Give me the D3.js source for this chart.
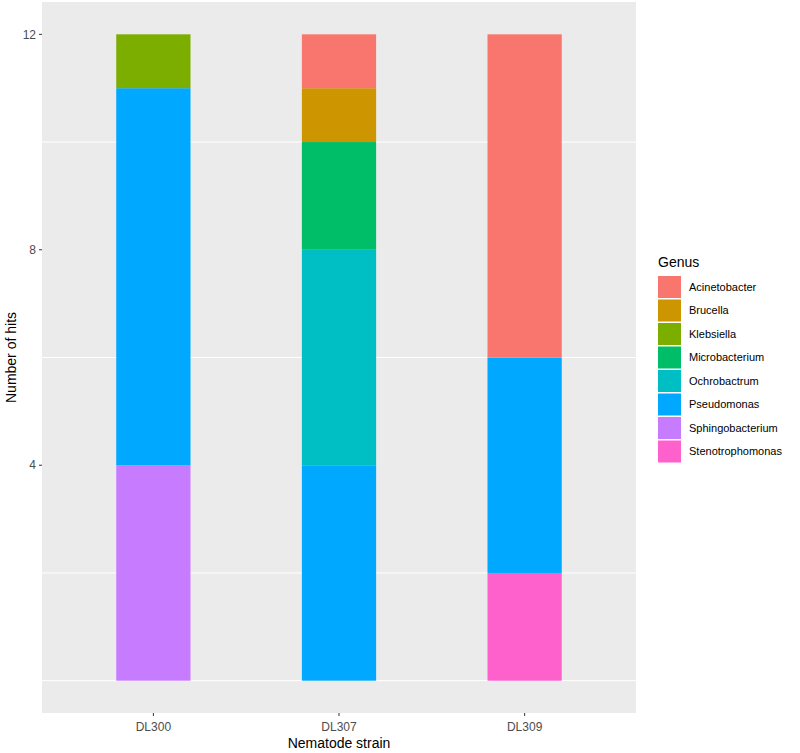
<!DOCTYPE html>
<html>
<head>
<meta charset="utf-8">
<script src="https://cdn.jsdelivr.net/npm/d3@7"></script>
<style>
    body { margin: 0; background: #fff; }
    text { font-family: "Liberation Sans", Arial, sans-serif; }
</style>
</head>
<body>
<div id="chart"></div>
<script>
const strains = ["DL300", "DL307", "DL309"];
const genera = ["Acinetobacter", "Brucella", "Klebsiella", "Microbacterium",
    "Ochrobactrum", "Pseudomonas", "Sphingobacterium", "Stenotrophomonas"];
const genusColors = ["#F8766D", "#CD9600", "#7CAE00", "#00BE67",
    "#00BFC4", "#00A9FF", "#C77CFF", "#FF61CC"];
// hits per genus, one value per strain (DL300, DL307, DL309)
const acinetobacter = [0, 1, 6];
const brucella = [0, 1, 0];
const klebsiella = [1, 0, 0];
const microbacterium = [0, 2, 0];
const ochrobactrum = [0, 4, 0];
const pseudomonas = [7, 4, 4];
const sphingobacterium = [4, 0, 0];
const stenotrophomonas = [0, 0, 2];
const yTicks = [4, 8, 12];
const yGrid = [0, 2, 6, 10];

const seriesValues = [acinetobacter, brucella, klebsiella, microbacterium,
    ochrobactrum, pseudomonas, sphingobacterium, stenotrophomonas];

const width = 800, height = 753;
const panel = { left: 42, right: 636, top: 2, bottom: 713 };

const svg = d3.select("#chart").append("svg")
    .attr("width", width)
    .attr("height", height);

const x = d3.scalePoint()
    .domain(strains)
    .range([panel.left, panel.right])
    .padding(0.6);
const barW = x.step() * 0.4;

const y = d3.scaleLinear()
    .domain([-0.6, 12.6])
    .range([panel.bottom, panel.top]);

const color = d3.scaleOrdinal().domain(genera).range(genusColors);

// panel background
svg.append("rect")
    .attr("x", panel.left).attr("y", panel.top)
    .attr("width", panel.right - panel.left)
    .attr("height", panel.bottom - panel.top)
    .attr("fill", "#EBEBEB");

svg.append("g")
    .attr("stroke", "#fff")
    .selectAll("line")
    .data(yGrid)
    .join("line")
    .attr("x1", panel.left).attr("x2", panel.right)
    .attr("y1", d => y(d)).attr("y2", d => y(d))
    .attr("stroke-width", 1);

// stacked bars: first genus on top, so stack in reverse order
const rows = strains.map((s, i) => {
    const r = { strain: s };
    genera.forEach((g, j) => r[g] = seriesValues[j][i]);
    return r;
});
const layers = d3.stack().keys(genera.slice().reverse())(rows);

svg.append("g")
    .selectAll("g")
    .data(layers)
    .join("g")
    .attr("fill", d => color(d.key))
    .selectAll("rect")
    .data(d => d.filter(p => p[1] > p[0]))
    .join("rect")
    .attr("x", d => x(d.data.strain) - barW / 2)
    .attr("width", barW)
    .attr("y", d => y(d[1]))
    .attr("height", d => y(d[0]) - y(d[1]));

// axes
const yAxis = svg.append("g");
yAxis.selectAll("line")
    .data(yTicks)
    .join("line")
    .attr("x1", panel.left - 3).attr("x2", panel.left)
    .attr("y1", d => y(d)).attr("y2", d => y(d))
    .attr("stroke", "#333");
yAxis.selectAll("text")
    .data(yTicks)
    .join("text")
    .attr("x", panel.left - 6)
    .attr("y", d => y(d))
    .attr("dy", "0.35em")
    .attr("text-anchor", "end")
    .attr("font-size", 12)
    .attr("fill", "#4D4D4D")
    .text(d => d);

const xAxis = svg.append("g");
xAxis.selectAll("line")
    .data(strains)
    .join("line")
    .attr("x1", d => x(d)).attr("x2", d => x(d))
    .attr("y1", panel.bottom).attr("y2", panel.bottom + 3)
    .attr("stroke", "#333");
xAxis.selectAll("text")
    .data(strains)
    .join("text")
    .attr("x", d => x(d))
    .attr("y", panel.bottom + 18)
    .attr("text-anchor", "middle")
    .attr("font-size", 12)
    .attr("fill", "#4D4D4D")
    .text(d => d);

svg.append("text")
    .attr("x", (panel.left + panel.right) / 2)
    .attr("y", 748)
    .attr("text-anchor", "middle")
    .attr("font-size", 14)
    .attr("fill", "#000")
    .text("Nematode strain");

svg.append("text")
    .attr("transform", `translate(16, ${(panel.top + panel.bottom) / 2}) rotate(-90)`)
    .attr("text-anchor", "middle")
    .attr("font-size", 14)
    .attr("fill", "#000")
    .text("Number of hits");

// legend
const legend = svg.append("g").attr("transform", "translate(658, 0)");
legend.append("text")
    .attr("x", 0).attr("y", 267)
    .attr("font-size", 14)
    .attr("fill", "#000")
    .text("Genus");
const item = legend.selectAll("g.item")
    .data(genera)
    .join("g")
    .attr("transform", (d, i) => `translate(0, ${276 + i * 23.5})`);
item.append("rect")
    .attr("width", 23).attr("height", 22)
    .attr("fill", d => color(d));
item.append("text")
    .attr("x", 31).attr("y", 11)
    .attr("dy", "0.35em")
    .attr("font-size", 11)
    .attr("fill", "#000")
    .text(d => d);
</script>
</body>
</html>
